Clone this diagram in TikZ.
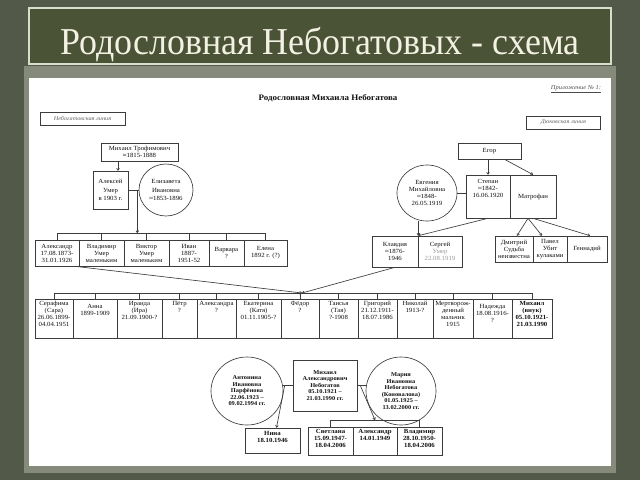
\documentclass[tikz,border=0pt]{standalone}
\usepackage{fontspec}
\setmainfont{Liberation Serif}
\newfontfamily\dfam[FakeStretch=1.08]{Liberation Serif}
\newfontfamily\tfam[FakeStretch=0.945]{Liberation Serif}
\usetikzlibrary{arrows.meta,shapes.geometric,calc}
\definecolor{bgc}{HTML}{535948}
\definecolor{titlec}{HTML}{4B5336}
\definecolor{titleborder}{HTML}{D9DDCC}
\definecolor{titletext}{HTML}{F3F1E3}
\definecolor{bandc}{HTML}{858A7B}
\definecolor{linec}{HTML}{3C3C3C}
\definecolor{txtc}{HTML}{111111}
\definecolor{sgc}{HTML}{9A9A9A}
\newcommand\dfs{\dfam\fontsize{6.3}{7}\selectfont}
\newcommand\dfsb{\dfam\bfseries\fontsize{5.9}{6.5}\selectfont}
\newcommand\dfsk{\dfam\bfseries\fontsize{6.3}{8}\selectfont}
\tikzset{
  cellbox/.style={draw=linec, line width=0.65pt, inner sep=0pt, fill=white},
  celltext/.style={inner sep=0pt, align=center, font=\dfs, text=txtc},
  conn/.style={draw=linec, line width=0.65pt},
  arr/.style={conn, -{To[length=2.6pt,width=3.2pt]}},
  oval/.style={ellipse, draw=linec, line width=0.65pt, inner sep=0pt, align=center, font=\dfs, text=txtc, fill=white},
  linebox/.style={draw=linec, line width=0.8pt, inner sep=0pt, font=\dfam\itshape\fontsize{5.8}{6.5}\selectfont, text=black!60},
}
% top-aligned cell: name, x1, x2, y1, y2, offset, text
\newcommand\cellT[7]{%
  \node[cellbox, minimum width={#3-#2}, minimum height={#5-#4}] (#1) at ({(#2+#3)/2},{(#4+#5)/2}) {};
  \node[celltext, anchor=north] (#1t) at ({(#2+#3)/2},{#4+#6}) {#7};}
% centred cell: name, x1, x2, y1, y2, text
\newcommand\cellC[6]{%
  \node[cellbox, celltext, minimum width={#3-#2}, minimum height={#5-#4}] (#1) at ({(#2+#3)/2},{(#4+#5)/2}) {#6};}

\begin{document}
\begin{tikzpicture}[x=1pt,y=-1pt]
\useasboundingbox (0,0) rectangle (640,480);
% slide background
\fill[bgc] (0,0) rectangle (640,480);
\fill[bandc] (24,66) rectangle (616,473);
\fill[white] (29,78) rectangle (611,466);
\draw[titleborder, line width=1.6pt, fill=titlec] (29,8) rectangle (611,64);
\node[font=\tfam\fontsize{38}{42}\selectfont, text=titletext, anchor=base, inner sep=0pt] (title) at (320,54) {Родословная Небогатовых - схема};

% document header
\node[font=\dfam\bfseries\fontsize{8.3}{9}\selectfont, text=txtc, inner sep=0pt] (hdr) at (328,98) {Родословная Михаила Небогатова};
\node[font=\dfam\itshape\fontsize{6}{6.5}\selectfont, text=black!70, inner sep=0pt] (app) at (576,89) {\underline{Приложение № 1:}};
\node[linebox, minimum width=85, minimum height=13] (neb) at (82.5,118.5) {Небогатовская линия};
\node[linebox, minimum width=74, minimum height=13] (dyu) at (563.5,122.5) {Дюковская линия};

% ---------- top left ----------
\cellC{mt}{101}{178}{143}{161}{Михаил Трофимович\\≈1815-1888}
\node[cellbox, celltext, font=\dfam\fontsize{6.3}{8.5}\selectfont, minimum width=35, minimum height=38] (al) at (110.5,190) {Алексей\\Умер\\в 1903 г.};
\node[oval, font=\dfam\fontsize{6.3}{8.5}\selectfont, minimum width=54, minimum height=52] (el) at (166,190) {Елизавета\\Ивановна\\≈1853-1896};

% row 2 left
\cellC{r2a}{35}{79}{240}{266}{Александр\\17.08.1873-\\31.01.1926}
\cellC{r2b}{79}{124}{240}{266}{Владимир\\Умер\\маленьким}
\cellC{r2c}{124}{169}{240}{266}{Виктор\\Умер\\маленьким}
\cellC{r2d}{169}{209}{240}{266}{Иван\\1887-\\1951-52}
\cellC{r2e}{209}{244}{240}{266}{Варвара\\?}
\cellC{r2f}{244}{287}{240}{266}{Елена\\1892 г. (?)}

% ---------- top right ----------
\cellC{eg}{458}{521}{143}{159}{Егор}
\cellT{st}{466}{510}{175}{218}{4}{Степан\\≈1842-\\16.06.1920}
\cellC{mf}{510}{556}{175}{218}{Матрофан}
\node[oval, minimum width=60, minimum height=56] (ev) at (427,193) {Евгения\\Михайловна\\≈1848-\\26.05.1919};

\cellC{kl}{372}{418}{236}{267}{Клавдия\\≈1876-\\1946}
\cellC{sg}{418}{462}{236}{267}{Сергей\\{\color{sgc}Умер}\\{\color{sgc}22.08.1919}}
\cellC{dm}{495}{533}{236}{262}{Дмитрий\\Судьба\\неизвестна}
\cellC{pv}{533}{567}{236}{262}{Павел\\Убит\\кулаками}
\cellC{gn}{567}{607}{236}{262}{Геннадий}

% ---------- row 3 ----------
\cellT{r3a}{35}{73}{299}{338}{2}{Серафима\\(Сара)\\26.06.1899-\\04.04.1951}
\cellT{r3b}{73}{117}{299}{338}{5.5}{Анна\\1899-1909}
\cellT{r3c}{117}{162}{299}{338}{2}{Ираида\\(Ира)\\21.09.1900-?}
\cellT{r3d}{162}{197}{299}{338}{2}{Пётр\\?}
\cellT{r3e}{197}{236}{299}{338}{2}{Александра\\?}
\cellT{r3f}{236}{281}{299}{338}{2}{Екатерина\\(Катя)\\01.11.1905-?}
\cellT{r3g}{281}{319}{299}{338}{2}{Фёдор\\?}
\cellT{r3h}{319}{358}{299}{338}{2}{Таисья\\(Тая)\\?-1908}
\cellT{r3i}{358}{397}{299}{338}{2}{Григорий\\21.12.1911-\\18.07.1986}
\cellT{r3j}{397}{433}{299}{338}{2}{Николай\\1913-?}
\cellT{r3k}{433}{473}{299}{338}{2}{Мертворож-\\денный\\мальчик\\1915}
\cellT{r3l}{473}{512}{299}{338}{5.5}{Надежда\\18.08.1916-\\?}
\cellT{r3m}{512}{552}{299}{338}{2}{\bfseries Михаил\\\bfseries (внук)\\\bfseries 05.10.1921-\\\bfseries 21.03.1990}

% ---------- bottom ----------
\node[oval, font=\dfsb, minimum width=72, minimum height=68] (an) at (247,391) {Антонина\\Ивановна\\Парфёнова\\22.06.1923 –\\09.02.1994 гг.};
\node[cellbox, celltext, font=\dfsb, minimum width=64, minimum height=51] (mk) at (325,385.5) {Михаил\\Александрович\\Небогатов\\05.10.1921 –\\21.03.1990 гг.};
\node[oval, font=\dfsb, minimum width=70, minimum height=68] (ma) at (401,391) {Мария\\Ивановна\\Небогатова\\(Коновалова)\\01.05.1925 –\\13.02.2000 гг.};

\cellT{ni}{245}{300}{428}{453}{3}{\dfsk Нина\\\dfsk 18.10.1946}
\cellT{sv}{308}{353}{427}{455}{2.5}{\dfsk Светлана\\\dfsk 15.09.1947-\\\dfsk 18.04.2006}
\cellT{a2}{353}{397}{427}{455}{2.5}{\dfsk Александр\\\dfsk 14.01.1949}
\cellT{vl}{397}{442}{427}{455}{2.5}{\dfsk Владимир\\\dfsk 28.10.1950-\\\dfsk 18.04.2006}

% ---------- connectors ----------
\coordinate (a1) at (118,150);
\draw[arr] (mt.south -| a1) -- (al.north -| a1);
\draw[conn] (al.east) -- (al.east -| el.west);
\coordinate (j1) at ($(al.east)+(9,0)$);
\coordinate (bar2) at (0,233);
\draw[arr] (j1) -- (j1 |- bar2);
\draw[conn] (r2a.north |- bar2) -- (r2f.north |- bar2);
\foreach \n in {r2a,r2b,r2c,r2d,r2e,r2f} \draw[conn] (\n.north) -- (\n.north |- bar2);

\draw[arr] (eg.south -| st.north) -- (st.north);
\draw[arr] ($(eg.south)+(15,0)$) -- (mf.north);
\draw[conn] (ev.east) -- (ev.east -| st.west);
\draw[arr] (kl.north east |- ev.south) -- (kl.north east);
\draw[arr] (st.south) -- (kl.north east);
\coordinate (mfs) at ($(mf.south)+(-5,0)$);
\draw[arr] (mfs) -- ($(dm.north)+(3,0)$);
\draw[arr] (mfs) -- ($(pv.north)+(-8,0)$);
\draw[arr] (mf.south) -- ($(gn.north)+(3,0)$);

\coordinate (bar3) at (0,293);
\coordinate (t3) at (302,293);
\draw[arr] ($(r2a.south)+(18,0)$) -- (t3);
\draw[arr] (kl.south) -- (t3);
\draw[conn] (r3a.north |- bar3) -- (r3m.north |- bar3);
\foreach \n in {r3a,r3b,r3c,r3d,r3e,r3f,r3g,r3h,r3i,r3j,r3k,r3l,r3m} \draw[conn] (\n.north) -- (\n.north |- bar3);

\draw[conn] (mk.west) -- (mk.west -| an.east);
\draw[conn] (mk.east) -- (mk.east -| ma.west);
\coordinate (jn) at ($(mk.west)+(-8,0)$);
\draw[arr] (jn) -- ($(ni.north)+(4,0)$);
\coordinate (jk) at ($(mk.east)+(3,0)$);
\coordinate (bar4) at (0,420);
\draw[arr] (jk) -- (a2.north |- bar4);
\draw[conn] (sv.north |- bar4) -- (vl.north |- bar4);
\draw[conn] (sv.north) -- (sv.north |- bar4);
\draw[conn] (vl.north) -- (vl.north |- bar4);
\end{tikzpicture}
\end{document}
